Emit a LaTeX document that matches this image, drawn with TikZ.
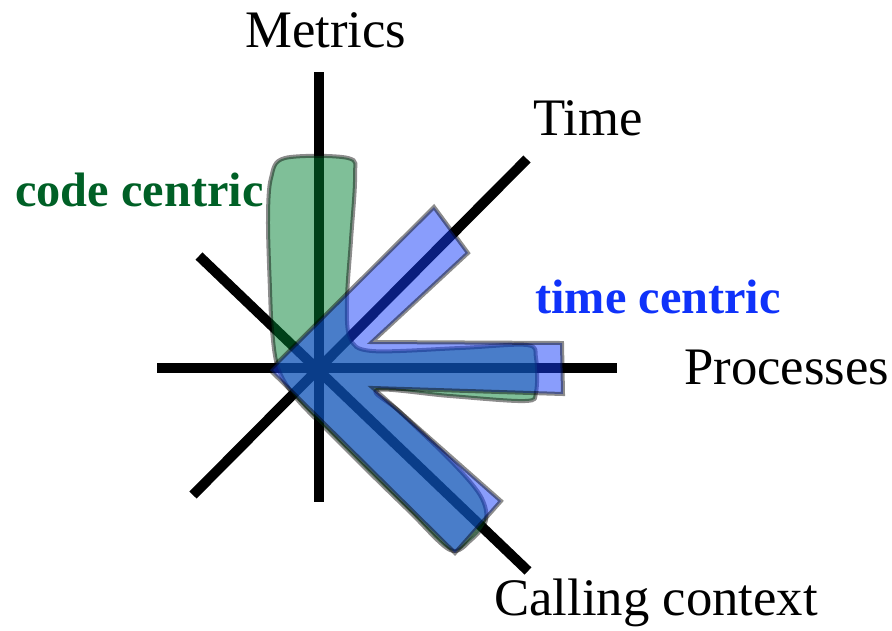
\documentclass[tikz,border=0pt]{standalone}
\usepackage{fontspec}
\setmainfont{Liberation Serif}
\usetikzlibrary{positioning}
\definecolor{codegreen}{RGB}{0,96,38}
\definecolor{timeblue}{RGB}{15,50,250}
\definecolor{blobgreen}{RGB}{0,128,50}
\definecolor{blobblue}{RGB}{20,60,250}
\tikzset{
  axis/.style      = {line width=0.2cm, black},
  axislabel/.style = {anchor=base west, inner sep=0pt,
                      font=\fontsize{30}{36}\selectfont},
  tag/.style       = {anchor=base west, inner sep=0pt, text=#1,
                      font=\fontsize{27.5}{33}\selectfont\bfseries},
  blob/.style      = {fill=#1, fill opacity=0.5, draw=black, draw opacity=0.45,
                      line width=0.08cm, line join=round},
}

\begin{document}
\begin{tikzpicture}[x=0.02cm, y=-0.02cm]
  \useasboundingbox (0,0) rectangle (892,630);

  % axis ends
  \coordinate (mtop)  at (319,72);
  \coordinate (mbot)  at (319,502);
  \coordinate (pleft) at (157,368);
  \coordinate (pright) at (617,368);
  \coordinate (tlow)  at (193,495);
  \coordinate (thigh) at (527,159);
  \coordinate (chigh) at (199,256);
  \coordinate (clow)  at (528,571);

  \draw[axis] (mtop) -- (mbot);
  \draw[axis] (pleft) -- (pright);
  \draw[axis] (tlow) -- (thigh);
  \draw[axis] (chigh) -- (clow);

  % code centric profile
  \draw[blob=blobgreen] plot[smooth cycle, tension=0.55] coordinates {
    (271,178) (285,158) (348,158) (355,176) (351,240) (347,300) (350,338)
    (372,351) (460,348) (527,345) (536,358) (536,392) (525,401) (450,396)
    (377,390) (400,412) (450,460) (480,495) (486,520) (471,540) (450,550)
    (410,512) (370,473) (330,433) (296,398) (278,368) (272,330) (270,290)
    (268,220)};

  % time centric profile
  \draw[blob=blobblue, line join=miter] (270,370) -- (434,207) -- (468,253)
    -- (372,342) -- (562,343) -- (563,394) -- (373,388) -- (501,501)
    -- (455,553) -- cycle;

  \node[axislabel] (metrics) at (245,47) {Metrics};
  \node[axislabel] (time) at (533,135) {Time};
  \node[axislabel] (processes) at (684,384) {Processes};
  \node[axislabel] (calling) at (494,615) {Calling context};
  \node[tag=codegreen] (code) at (15,206) {code centric};
  \node[tag=timeblue] (timec) at (535,313) {time centric};
\end{tikzpicture}
\end{document}
